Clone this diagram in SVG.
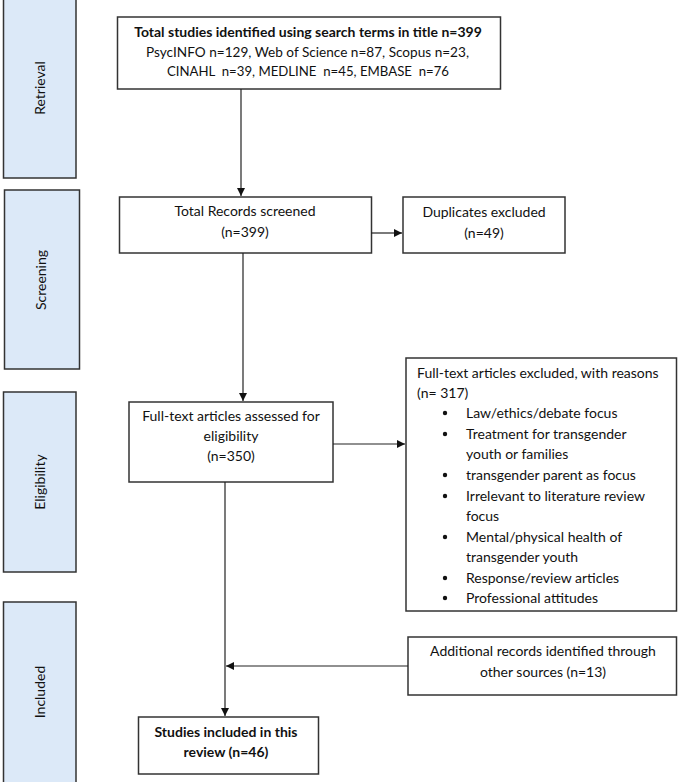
<svg xmlns="http://www.w3.org/2000/svg" width="678" height="782" viewBox="0 0 678 782">
<defs>
<marker id="arr" viewBox="0 0 10 10" refX="10" refY="5" markerWidth="8" markerHeight="8" markerUnits="userSpaceOnUse" orient="auto">
<path d="M0,0 L10,5 L0,10 z" fill="#111"/>
</marker>
</defs>
<style>
.bar{fill:#dce9f8;stroke:#333;stroke-width:1.5}
.box{fill:#fff;stroke:#333;stroke-width:1.5}
.t{font-family:"Lato","Liberation Sans",sans-serif;font-size:14px;fill:#111}
.c{text-anchor:middle}
.b{font-weight:bold}
.lab{font-family:"Lato","Liberation Sans",sans-serif;font-size:14px;fill:#111;text-anchor:middle}
.con{fill:none;stroke:#222;stroke-width:1.2}
</style>
<g id="retrieval">
<rect class="bar" x="3.5" y="-2" width="72.5" height="180"/>
<text class="lab" transform="translate(45,88) rotate(-90)">Retrieval</text>
</g>
<g id="screening">
<rect class="bar" x="4.5" y="190" width="75" height="179"/>
<text class="lab" transform="translate(46,280) rotate(-90)">Screening</text>
</g>
<g id="eligibility">
<rect class="bar" x="3.5" y="392" width="72.5" height="180"/>
<text class="lab" transform="translate(45,482) rotate(-90)">Eligibility</text>
</g>
<g id="included">
<rect class="bar" x="3.5" y="602" width="72.5" height="184"/>
<text class="lab" transform="translate(45,692) rotate(-90)">Included</text>
</g>
<g id="identified">
<rect class="box" x="117.5" y="17" width="383" height="72"/>
<text class="t c b" x="308" y="37">Total studies identified using search terms in title n=399</text>
<text class="t" x="146" y="57" textLength="323" lengthAdjust="spacingAndGlyphs">PsycINFO n=129, Web of Science n=87, Scopus n=23,</text>
<text class="t" x="167" y="76" xml:space="preserve" textLength="282" lengthAdjust="spacingAndGlyphs">CINAHL  n=39, MEDLINE  n=45, EMBASE  n=76</text>
</g>
<g id="screened">
<rect class="box" x="119.5" y="197" width="252" height="56"/>
<text class="t c" x="245" y="216">Total Records screened</text>
<text class="t c" x="245" y="237">(n=399)</text>
</g>
<g id="duplicates">
<rect class="box" x="403" y="197" width="162" height="56"/>
<text class="t c" x="484" y="217">Duplicates excluded</text>
<text class="t c" x="484" y="238">(n=49)</text>
</g>
<g id="assessed">
<rect class="box" x="129" y="402" width="204" height="80"/>
<text class="t c" x="231" y="421">Full-text articles assessed for</text>
<text class="t c" x="231" y="441">eligibility</text>
<text class="t c" x="231" y="461">(n=350)</text>
</g>
<g id="excluded">
<rect class="box" x="406" y="358" width="270.5" height="253"/>
<text class="t" x="417" y="378">Full-text articles excluded, with reasons</text>
<text class="t" x="417" y="398">(n= 317)</text>
<g class="t">
<circle cx="445" cy="413" r="2.2" fill="#111"/>
<text x="466" y="418">Law/ethics/debate focus</text>
<circle cx="445" cy="434" r="2.2" fill="#111"/>
<text x="466" y="439">Treatment for transgender</text>
<text x="466" y="459">youth or families</text>
<circle cx="445" cy="475" r="2.2" fill="#111"/>
<text x="466" y="480">transgender parent as focus</text>
<circle cx="445" cy="496" r="2.2" fill="#111"/>
<text x="466" y="501">Irrelevant to literature review</text>
<text x="466" y="521">focus</text>
<circle cx="445" cy="537" r="2.2" fill="#111"/>
<text x="466" y="542">Mental/physical health of</text>
<text x="466" y="562">transgender youth</text>
<circle cx="445" cy="578" r="2.2" fill="#111"/>
<text x="466" y="583">Response/review articles</text>
<circle cx="445" cy="598" r="2.2" fill="#111"/>
<text x="466" y="603">Professional attitudes</text>
</g>
</g>
<g id="additional">
<rect class="box" x="408" y="637" width="268.5" height="58"/>
<text class="t c" x="543" y="656">Additional records identified through</text>
<text class="t c" x="543" y="677">other sources (n=13)</text>
</g>
<g id="studies">
<rect class="box" x="138.5" y="717" width="180" height="57"/>
<text class="t c b" x="226" y="737">Studies included in this</text>
<text class="t c b" x="226" y="757">review (n=46)</text>
</g>
<g id="connectors">
<line class="con" x1="241" y1="89" x2="241" y2="196" marker-end="url(#arr)"/>
<line class="con" x1="371" y1="233" x2="402" y2="233" marker-end="url(#arr)"/>
<line class="con" x1="243" y1="253" x2="243" y2="401" marker-end="url(#arr)"/>
<line class="con" x1="333" y1="444" x2="405" y2="444" marker-end="url(#arr)"/>
<line class="con" x1="225" y1="482" x2="225" y2="716" marker-end="url(#arr)"/>
<line class="con" x1="408" y1="666" x2="226" y2="666" marker-end="url(#arr)"/>
</g>
</svg>
